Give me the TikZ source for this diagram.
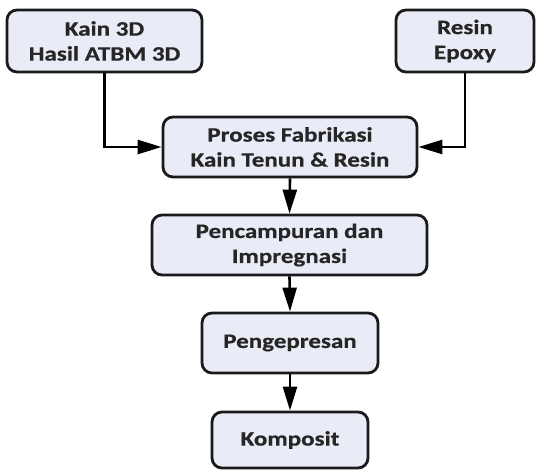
\documentclass[tikz,border=0pt]{standalone}
\usepackage{fontspec}
\setmainfont{Carlito}[FakeStretch=1.22, BoldFeatures={FakeStretch=1.22, FakeBold=0.6}]
\usetikzlibrary{arrows.meta}
\definecolor{boxfill}{HTML}{E9ECF6}
\definecolor{boxline}{HTML}{1A1A1A}
\begin{document}
\begin{tikzpicture}[x=1pt,y=-1pt,
  box/.style={draw=boxline, fill=boxfill, line width=2.8pt, rounded corners=10pt,
    align=center, inner sep=0pt, font=\fontsize{20.5}{25}\selectfont\bfseries, text=black!85},
  conn/.style={draw=black, line width=2.6pt, -{Triangle[length=24pt,width=14pt]}}]
\useasboundingbox (0,0) rectangle (544,470);
\node[box, minimum width=195pt, minimum height=62pt] (kain) at (104.5,41) {Kain 3D\\Hasil ATBM 3D};
\node[box, minimum width=138pt, minimum height=62pt] (resin) at (465,41) {Resin\\Epoxy};
\node[box, minimum width=254pt, minimum height=60pt] (proses) at (290,147) {Proses Fabrikasi\\Kain Tenun \& Resin};
\node[box, minimum width=275pt, minimum height=60pt] (campur) at (289.5,245) {Pencampuran dan\\Impregnasi};
\node[box, minimum width=176pt, minimum height=60pt] (press) at (290,343) {Pengepresan};
\node[box, minimum width=156pt, minimum height=56pt] (komp) at (290,440) {Komposit};
\draw[conn] (kain.south) |- (proses.west);
\draw[conn] (resin.south) |- (proses.east);
\draw[conn] (proses.south) -- (campur.north);
\draw[conn] (campur.south) -- (press.north);
\draw[conn] (press.south) -- (komp.north);
\end{tikzpicture}
\end{document}
